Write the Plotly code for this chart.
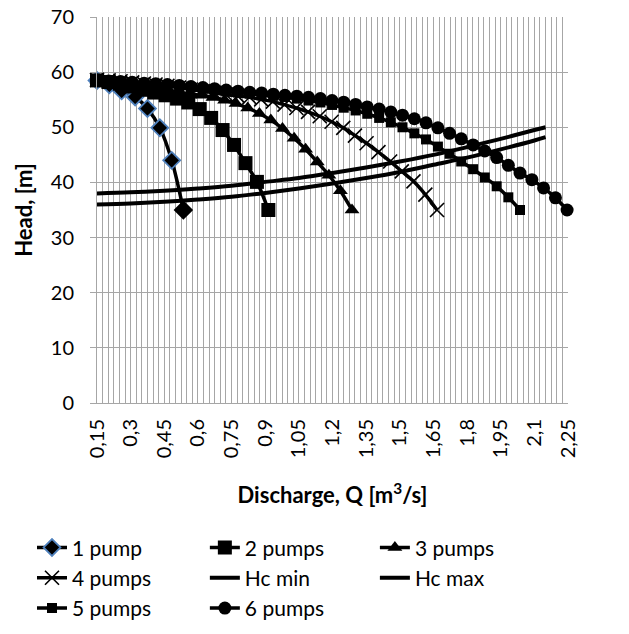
import plotly.graph_objects as go

# ---------------- data ----------------
q_1pump = [0.15, 0.205, 0.26, 0.32, 0.375, 0.43, 0.483, 0.535]
h_1pump = [58.5, 57.7, 56.6, 55.5, 53.4, 49.9, 44.0, 35.0]

q_2pumps = [0.15, 0.201, 0.252, 0.303, 0.354, 0.405, 0.456, 0.507, 0.557, 0.608,
            0.659, 0.71, 0.761, 0.812, 0.863, 0.914]
h_2pumps = [58.5, 58.2, 57.9, 57.4, 56.8, 56.3, 55.8, 55.2, 54.5, 53.3,
            51.7, 49.5, 46.8, 43.5, 40.1, 35.0]

q_3pumps = [0.15, 0.202, 0.253, 0.305, 0.357, 0.408, 0.46, 0.512, 0.564, 0.615,
            0.667, 0.719, 0.77, 0.822, 0.874, 0.925, 0.977, 1.029, 1.08, 1.132,
            1.184, 1.235, 1.287]
h_3pumps = [58.5, 58.3, 58.05, 57.8, 57.5, 57.2, 56.8, 56.4, 56.1, 55.8,
            55.4, 54.9, 54.3, 53.5, 52.5, 51.3, 49.8, 48.0, 46.0, 43.7,
            41.3, 38.5, 35.0]

q_4pumps = [0.15, 0.202, 0.255, 0.307, 0.359, 0.411, 0.464, 0.516, 0.568, 0.621,
            0.673, 0.725, 0.777, 0.83, 0.882, 0.934, 0.986, 1.039, 1.091, 1.143,
            1.196, 1.248, 1.3, 1.352, 1.405, 1.457, 1.509, 1.561, 1.614, 1.666]
h_4pumps = [58.6, 58.5, 58.35, 58.15, 57.95, 57.75, 57.5, 57.2, 56.85, 56.55,
            56.25, 55.95, 55.7, 55.45, 55.05, 54.65, 54.1, 53.5, 52.8, 52.0,
            51.0, 49.9, 48.5, 47.1, 45.5, 43.8, 42.0, 40.2, 37.8, 35.0]

q_hc = [0.15, 0.3, 0.45, 0.6, 0.75, 0.9, 1.05, 1.2, 1.35, 1.5, 1.65, 1.8, 1.95, 2.1, 2.15]
h_hc_min = [36.0, 36.2, 36.5, 36.9, 37.4, 38.1, 38.9, 39.8, 40.8, 41.9, 43.2, 44.5, 46.0, 47.6, 48.2]
h_hc_max = [38.0, 38.2, 38.5, 38.9, 39.4, 40.1, 40.8, 41.7, 42.7, 43.8, 45.0, 46.4, 47.9, 49.5, 50.0]

q_5pumps = [0.15, 0.202, 0.255, 0.307, 0.36, 0.412, 0.464, 0.517, 0.569, 0.622,
            0.674, 0.726, 0.779, 0.831, 0.884, 0.936, 0.988, 1.041, 1.093, 1.146,
            1.198, 1.25, 1.303, 1.355, 1.408, 1.46, 1.512, 1.565, 1.617, 1.67,
            1.722, 1.774, 1.827, 1.879, 1.932, 1.984, 2.036]
h_5pumps = [58.5, 58.4, 58.25, 58.1, 57.95, 57.8, 57.65, 57.45, 57.25, 57.0,
            56.75, 56.5, 56.3, 56.1, 55.9, 55.7, 55.5, 55.2, 54.85, 54.5,
            54.05, 53.55, 53.05, 52.45, 51.7, 50.9, 50.0, 48.9, 47.8, 46.5,
            45.2, 43.8, 42.4, 40.9, 39.3, 37.3, 35.0]

q_6pumps = [0.15, 0.202, 0.255, 0.307, 0.36, 0.412, 0.464, 0.517, 0.569, 0.622,
            0.674, 0.726, 0.779, 0.831, 0.884, 0.936, 0.988, 1.041, 1.093, 1.146,
            1.198, 1.25, 1.303, 1.355, 1.408, 1.46, 1.512, 1.565, 1.617, 1.67,
            1.722, 1.774, 1.827, 1.879, 1.932, 1.984, 2.036, 2.089, 2.141, 2.194, 2.246]
h_6pumps = [58.5, 58.4, 58.3, 58.15, 58.0, 57.9, 57.75, 57.6, 57.4, 57.2,
            57.0, 56.75, 56.55, 56.35, 56.2, 56.0, 55.8, 55.65, 55.45, 55.2,
            54.85, 54.55, 54.15, 53.7, 53.3, 52.75, 52.2, 51.55, 50.8, 49.9,
            48.9, 47.9, 46.8, 45.7, 44.5, 43.1, 41.7, 40.5, 39.0, 37.2, 35.0]

x_tick_vals = [0.15, 0.3, 0.45, 0.6, 0.75, 0.9, 1.05, 1.2, 1.35, 1.5, 1.65, 1.8, 1.95, 2.1, 2.25]
x_tick_text = ["0,15", "0,3", "0,45", "0,6", "0,75", "0,9", "1,05", "1,2", "1,35",
               "1,5", "1,65", "1,8", "1,95", "2,1", "2,25"]
y_tick_vals = [0, 10, 20, 30, 40, 50, 60, 70]

# ---------------- styling ----------------
FONT = "Lato"
GRID = "#A6A6A6"
LW = 3.5
BLUE = "#4F81BD"

fig = go.Figure()

diamond_lines = [BLUE] * (len(q_1pump) - 1) + ["black"]
fig.add_trace(go.Scatter(
    x=q_1pump, y=h_1pump, name="1 pump", mode="lines+markers",
    legend="legend", legendgroup="g1",
    line=dict(color="black", width=LW, shape="spline"),
    marker=dict(symbol="diamond", size=13, color="black",
                line=dict(color=diamond_lines, width=1.8)),
    cliponaxis=False))
fig.add_trace(go.Scatter(
    x=q_2pumps, y=h_2pumps, name="2 pumps", mode="lines+markers",
    legend="legend2", legendgroup="g2",
    line=dict(color="black", width=LW, shape="spline"),
    marker=dict(symbol="square", size=14, color="black"), cliponaxis=False))
fig.add_trace(go.Scatter(
    x=q_3pumps, y=h_3pumps, name="3 pumps", mode="lines+markers",
    legend="legend3", legendgroup="g3",
    line=dict(color="black", width=LW, shape="spline"),
    marker=dict(symbol="triangle-up", size=13, color="black"), cliponaxis=False))
fig.add_trace(go.Scatter(
    x=q_4pumps, y=h_4pumps, name="4 pumps", mode="lines+markers",
    legend="legend", legendgroup="g4",
    line=dict(color="black", width=LW, shape="spline"),
    marker=dict(symbol="x-thin", size=14, color="black",
                line=dict(color="black", width=1.6)), cliponaxis=False))
fig.add_trace(go.Scatter(
    x=q_hc, y=h_hc_min, name="Hc min", mode="lines",
    legend="legend2", legendgroup="g5",
    line=dict(color="black", width=4, shape="spline")))
fig.add_trace(go.Scatter(
    x=q_hc, y=h_hc_max, name="Hc max", mode="lines",
    legend="legend3", legendgroup="g6",
    line=dict(color="black", width=4, shape="spline")))
fig.add_trace(go.Scatter(
    x=q_5pumps, y=h_5pumps, name="5 pumps", mode="lines+markers",
    legend="legend", legendgroup="g7",
    line=dict(color="black", width=LW, shape="spline"),
    marker=dict(symbol="square", size=10, color="black"), cliponaxis=False))
fig.add_trace(go.Scatter(
    x=q_6pumps, y=h_6pumps, name="6 pumps", mode="lines+markers",
    legend="legend2", legendgroup="g8",
    line=dict(color="black", width=LW, shape="spline"),
    marker=dict(symbol="circle", size=13, color="black"), cliponaxis=False))

LEG_Y = -0.322
leg_common = dict(orientation="v", y=LEG_Y, yanchor="top", xanchor="left",
                  font=dict(family=FONT, size=21, color="black"),
                  bgcolor="rgba(0,0,0,0)", tracegroupgap=0, traceorder="normal")

fig.update_layout(
    width=629, height=634,
    margin=dict(l=97, r=61, t=17, b=231, autoexpand=False),
    paper_bgcolor="white", plot_bgcolor="white",
    font=dict(family=FONT, size=20, color="black"),
    showlegend=True,
    legend=dict(x=-0.138, **leg_common),
    legend2=dict(x=0.229, **leg_common),
    legend3=dict(x=0.590, **leg_common),
    xaxis=dict(
        range=[0.15, 2.25], tickmode="array", tickvals=x_tick_vals, ticktext=x_tick_text,
        tickangle=-90, showgrid=True, gridcolor=GRID, gridwidth=1,
        minor=dict(dtick=0.025, tick0=0.15, showgrid=True, gridcolor=GRID, gridwidth=1),
        showline=True, linecolor=GRID, linewidth=1, zeroline=False,
        ticks="", ticklabelstandoff=7, tickfont=dict(size=20),
        title=dict(text="<b>Discharge, Q [m<sup>3</sup>/s]</b>", font=dict(size=22), standoff=30),
    ),
    yaxis=dict(
        range=[0, 70], tickmode="array", tickvals=y_tick_vals,
        showgrid=True, gridcolor=GRID, gridwidth=1,
        showline=True, linecolor=GRID, linewidth=1, zeroline=False,
        ticks="outside", ticklen=6, tickcolor=GRID, ticklabelstandoff=12,
        tickfont=dict(size=20),
        title=dict(text="<b>Head, [m]</b>", font=dict(size=22), standoff=12),
    ),
)

fig.write_html("out.html")
